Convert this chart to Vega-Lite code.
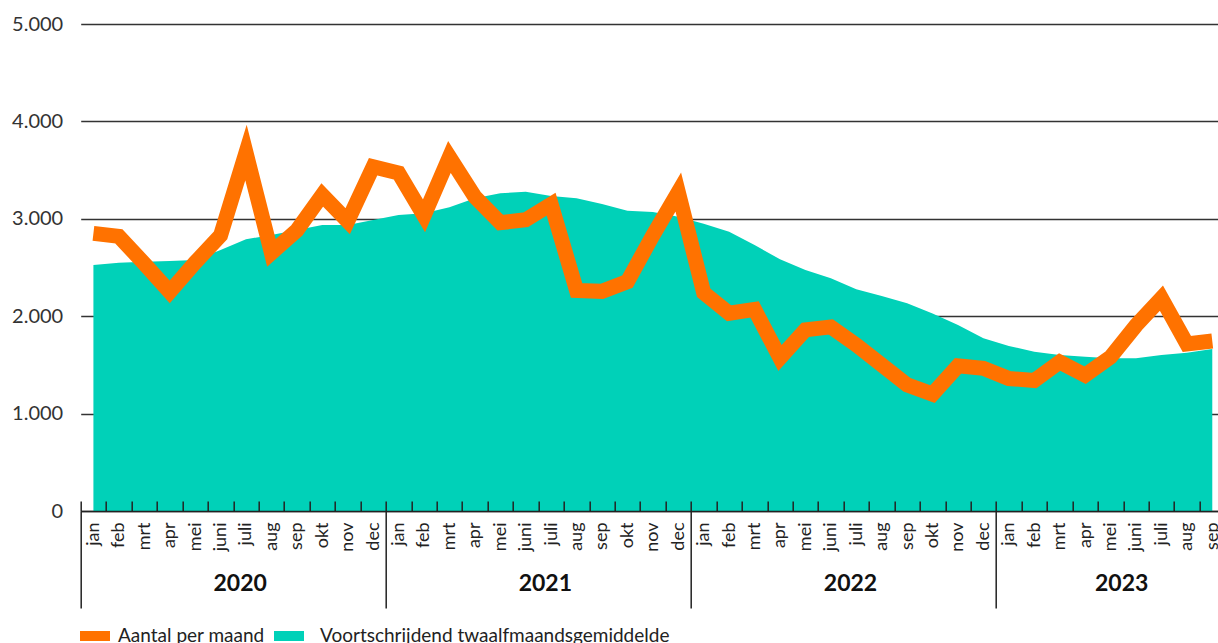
{
  "$schema": "https://vega.github.io/schema/vega-lite/v6.json",
  "width": 1137.3,
  "height": 487,
  "autosize": {"type": "none"},
  "padding": {"left": 80.7, "top": 24, "right": 0, "bottom": 132},
  "background": "white",
  "data": {
    "values": [
      {"jaar": 2020, "maand": "jan", "maandnr": 0, "aantal": 2850, "gemiddelde": 2526},
      {"jaar": 2020, "maand": "feb", "maandnr": 1, "aantal": 2820, "gemiddelde": 2550},
      {"jaar": 2020, "maand": "mrt", "maandnr": 2, "aantal": 2540, "gemiddelde": 2560},
      {"jaar": 2020, "maand": "apr", "maandnr": 3, "aantal": 2250, "gemiddelde": 2567},
      {"jaar": 2020, "maand": "mei", "maandnr": 4, "aantal": 2550, "gemiddelde": 2577},
      {"jaar": 2020, "maand": "juni", "maandnr": 5, "aantal": 2830, "gemiddelde": 2680},
      {"jaar": 2020, "maand": "juli", "maandnr": 6, "aantal": 3680, "gemiddelde": 2790},
      {"jaar": 2020, "maand": "aug", "maandnr": 7, "aantal": 2650, "gemiddelde": 2834},
      {"jaar": 2020, "maand": "sep", "maandnr": 8, "aantal": 2880, "gemiddelde": 2885},
      {"jaar": 2020, "maand": "okt", "maandnr": 9, "aantal": 3245, "gemiddelde": 2936},
      {"jaar": 2020, "maand": "nov", "maandnr": 10, "aantal": 2975, "gemiddelde": 2936},
      {"jaar": 2020, "maand": "dec", "maandnr": 11, "aantal": 3535, "gemiddelde": 2988},
      {"jaar": 2021, "maand": "jan", "maandnr": 12, "aantal": 3470, "gemiddelde": 3039},
      {"jaar": 2021, "maand": "feb", "maandnr": 13, "aantal": 3030, "gemiddelde": 3056},
      {"jaar": 2021, "maand": "mrt", "maandnr": 14, "aantal": 3635, "gemiddelde": 3118},
      {"jaar": 2021, "maand": "apr", "maandnr": 15, "aantal": 3225, "gemiddelde": 3210},
      {"jaar": 2021, "maand": "mei", "maandnr": 16, "aantal": 2960, "gemiddelde": 3262},
      {"jaar": 2021, "maand": "juni", "maandnr": 17, "aantal": 2990, "gemiddelde": 3278},
      {"jaar": 2021, "maand": "juli", "maandnr": 18, "aantal": 3150, "gemiddelde": 3234},
      {"jaar": 2021, "maand": "aug", "maandnr": 19, "aantal": 2265, "gemiddelde": 3210},
      {"jaar": 2021, "maand": "sep", "maandnr": 20, "aantal": 2255, "gemiddelde": 3152},
      {"jaar": 2021, "maand": "okt", "maandnr": 21, "aantal": 2355, "gemiddelde": 3083},
      {"jaar": 2021, "maand": "nov", "maandnr": 22, "aantal": 2830, "gemiddelde": 3070},
      {"jaar": 2021, "maand": "dec", "maandnr": 23, "aantal": 3275, "gemiddelde": 3020},
      {"jaar": 2022, "maand": "jan", "maandnr": 24, "aantal": 2240, "gemiddelde": 2950},
      {"jaar": 2022, "maand": "feb", "maandnr": 25, "aantal": 2030, "gemiddelde": 2868},
      {"jaar": 2022, "maand": "mrt", "maandnr": 26, "aantal": 2070, "gemiddelde": 2731},
      {"jaar": 2022, "maand": "apr", "maandnr": 27, "aantal": 1570, "gemiddelde": 2584},
      {"jaar": 2022, "maand": "mei", "maandnr": 28, "aantal": 1860, "gemiddelde": 2474},
      {"jaar": 2022, "maand": "juni", "maandnr": 29, "aantal": 1890, "gemiddelde": 2389},
      {"jaar": 2022, "maand": "juli", "maandnr": 30, "aantal": 1705, "gemiddelde": 2276},
      {"jaar": 2022, "maand": "aug", "maandnr": 31, "aantal": 1500, "gemiddelde": 2207},
      {"jaar": 2022, "maand": "sep", "maandnr": 32, "aantal": 1295, "gemiddelde": 2132},
      {"jaar": 2022, "maand": "okt", "maandnr": 33, "aantal": 1200, "gemiddelde": 2029},
      {"jaar": 2022, "maand": "nov", "maandnr": 34, "aantal": 1490, "gemiddelde": 1910},
      {"jaar": 2022, "maand": "dec", "maandnr": 35, "aantal": 1465, "gemiddelde": 1773},
      {"jaar": 2023, "maand": "jan", "maandnr": 36, "aantal": 1360, "gemiddelde": 1694},
      {"jaar": 2023, "maand": "feb", "maandnr": 37, "aantal": 1340, "gemiddelde": 1636},
      {"jaar": 2023, "maand": "mrt", "maandnr": 38, "aantal": 1530, "gemiddelde": 1602},
      {"jaar": 2023, "maand": "apr", "maandnr": 39, "aantal": 1395, "gemiddelde": 1584},
      {"jaar": 2023, "maand": "mei", "maandnr": 40, "aantal": 1580, "gemiddelde": 1568},
      {"jaar": 2023, "maand": "juni", "maandnr": 41, "aantal": 1905, "gemiddelde": 1568},
      {"jaar": 2023, "maand": "juli", "maandnr": 42, "aantal": 2185, "gemiddelde": 1602},
      {"jaar": 2023, "maand": "aug", "maandnr": 43, "aantal": 1715, "gemiddelde": 1625},
      {"jaar": 2023, "maand": "sep", "maandnr": 44, "aantal": 1745, "gemiddelde": 1663}
    ]
  },
  "layer": [
    {
      "mark": {"type": "area", "interpolate": "linear"},
      "encoding": {
        "x": {
          "field": "maandnr",
          "type": "quantitative",
          "scale": {"domain": [-0.5, 44.225], "nice": false, "zero": false},
          "axis": {
            "orient": "bottom",
            "title": null,
            "values": [-0.5, 0.5, 1.5, 2.5, 3.5, 4.5, 5.5, 6.5, 7.5, 8.5, 9.5, 10.5, 11.5, 12.5, 13.5, 14.5, 15.5, 16.5, 17.5, 18.5, 19.5, 20.5, 21.5, 22.5, 23.5, 24.5, 25.5, 26.5, 27.5, 28.5, 29.5, 30.5, 31.5, 32.5, 33.5, 34.5, 35.5, 36.5, 37.5, 38.5, 39.5, 40.5, 41.5, 42.5, 43.5],
            "labelExpr": "['jan','feb','mrt','apr','mei','juni','juli','aug','sep','okt','nov','dec'][(datum.value + 0.5) % 12]",
            "labelAngle": -90,
            "labelAlign": "right",
            "labelBaseline": "middle",
            "labelOffset": 12.7,
            "labelPadding": 21,
            "labelFont": "Lato",
            "labelFontSize": 18,
            "labelColor": "#222222",
            "labelOverlap": false,
            "labelFlush": false,
            "labelBound": false,
            "tickSize": -10,
            "tickColor": "#222222",
            "tickWidth": 1.5,
            "domainColor": "#222222",
            "domainWidth": 1.5,
            "grid": false,
            "zindex": 1
          }
        },
        "y": {
          "field": "gemiddelde",
          "type": "quantitative",
          "scale": {"domain": [0, 5000], "nice": false},
          "axis": {
            "title": null,
            "values": [0, 1000, 2000, 3000, 4000, 5000],
            "labelExpr": "replace(format(datum.value, ','), ',', '.')",
            "grid": true,
            "gridColor": "#333333",
            "gridWidth": 1.5,
            "domain": false,
            "ticks": false,
            "labelPadding": 18,
            "labelFont": "Lato",
            "labelFontSize": 20,
            "labelColor": "#333333",
            "zindex": 0
          }
        },
        "color": {
          "datum": "Voortschrijdend twaalfmaandsgemiddelde",
          "scale": {
            "domain": ["Aantal per maand", "Voortschrijdend twaalfmaandsgemiddelde"],
            "range": ["#ff7200", "#00d1b8"]
          },
          "legend": {
            "orient": "none",
            "legendX": -0.7,
            "legendY": 597,
            "direction": "horizontal",
            "title": null,
            "symbolType": "M-1,-0.333H1V0.333H-1Z",
            "symbolSize": 900,
            "symbolStrokeWidth": 0,
            "labelFont": "Lato",
            "labelFontSize": 19,
            "labelColor": "#222222",
            "labelOffset": 8,
            "labelLimit": 0,
            "columnPadding": 9,
            "encode": {
              "symbols": {
                "update": {
                  "fill": {"scale": "color", "field": "value"},
                  "strokeWidth": {"value": 0}
                }
              },
              "labels": {
                "update": {
                  "dx": {"signal": "datum.value == 'Aantal per maand' ? 0 : 8"}
                }
              }
            }
          }
        }
      }
    },
    {
      "mark": {"type": "line", "strokeWidth": 15, "strokeCap": "butt", "strokeJoin": "miter", "strokeMiterLimit": 10},
      "encoding": {
        "x": {
          "field": "maandnr",
          "type": "quantitative",
          "axis": {
            "orient": "bottom",
            "title": null,
            "values": [-0.5, 11.5, 23.5, 35.5],
            "labelExpr": "['2020','2021','2022','2023'][(datum.value + 0.5) / 12]",
            "labelAngle": 0,
            "labelAlign": "center",
            "labelBaseline": "alphabetic",
            "labelOffset": {"condition": {"test": "datum.value == 35.5", "value": 125}, "value": 159},
            "labelPadding": -18,
            "labelFont": "Lato",
            "labelFontWeight": "bold",
            "labelFontSize": 23,
            "labelColor": "#111111",
            "labelOverlap": false,
            "labelFlush": false,
            "labelBound": false,
            "tickSize": 97,
            "tickColor": "#222222",
            "tickWidth": 1.5,
            "domain": false,
            "grid": false,
            "zindex": 1
          }
        },
        "y": {
          "field": "aantal",
          "type": "quantitative",
          "axis": {
            "title": null,
            "values": [0, 1000, 2000, 3000, 4000, 5000],
            "labelExpr": "replace(format(datum.value, ','), ',', '.')",
            "grid": true,
            "gridColor": "#333333",
            "gridWidth": 1.5,
            "domain": false,
            "ticks": false,
            "labelPadding": 18,
            "labelFont": "Lato",
            "labelFontSize": 20,
            "labelColor": "#333333",
            "zindex": 0
          }
        },
        "color": {"datum": "Aantal per maand"}
      }
    }
  ],
  "resolve": {"axis": {"x": "independent"}},
  "config": {
    "view": {"stroke": null},
    "font": "Lato"
  }
}
